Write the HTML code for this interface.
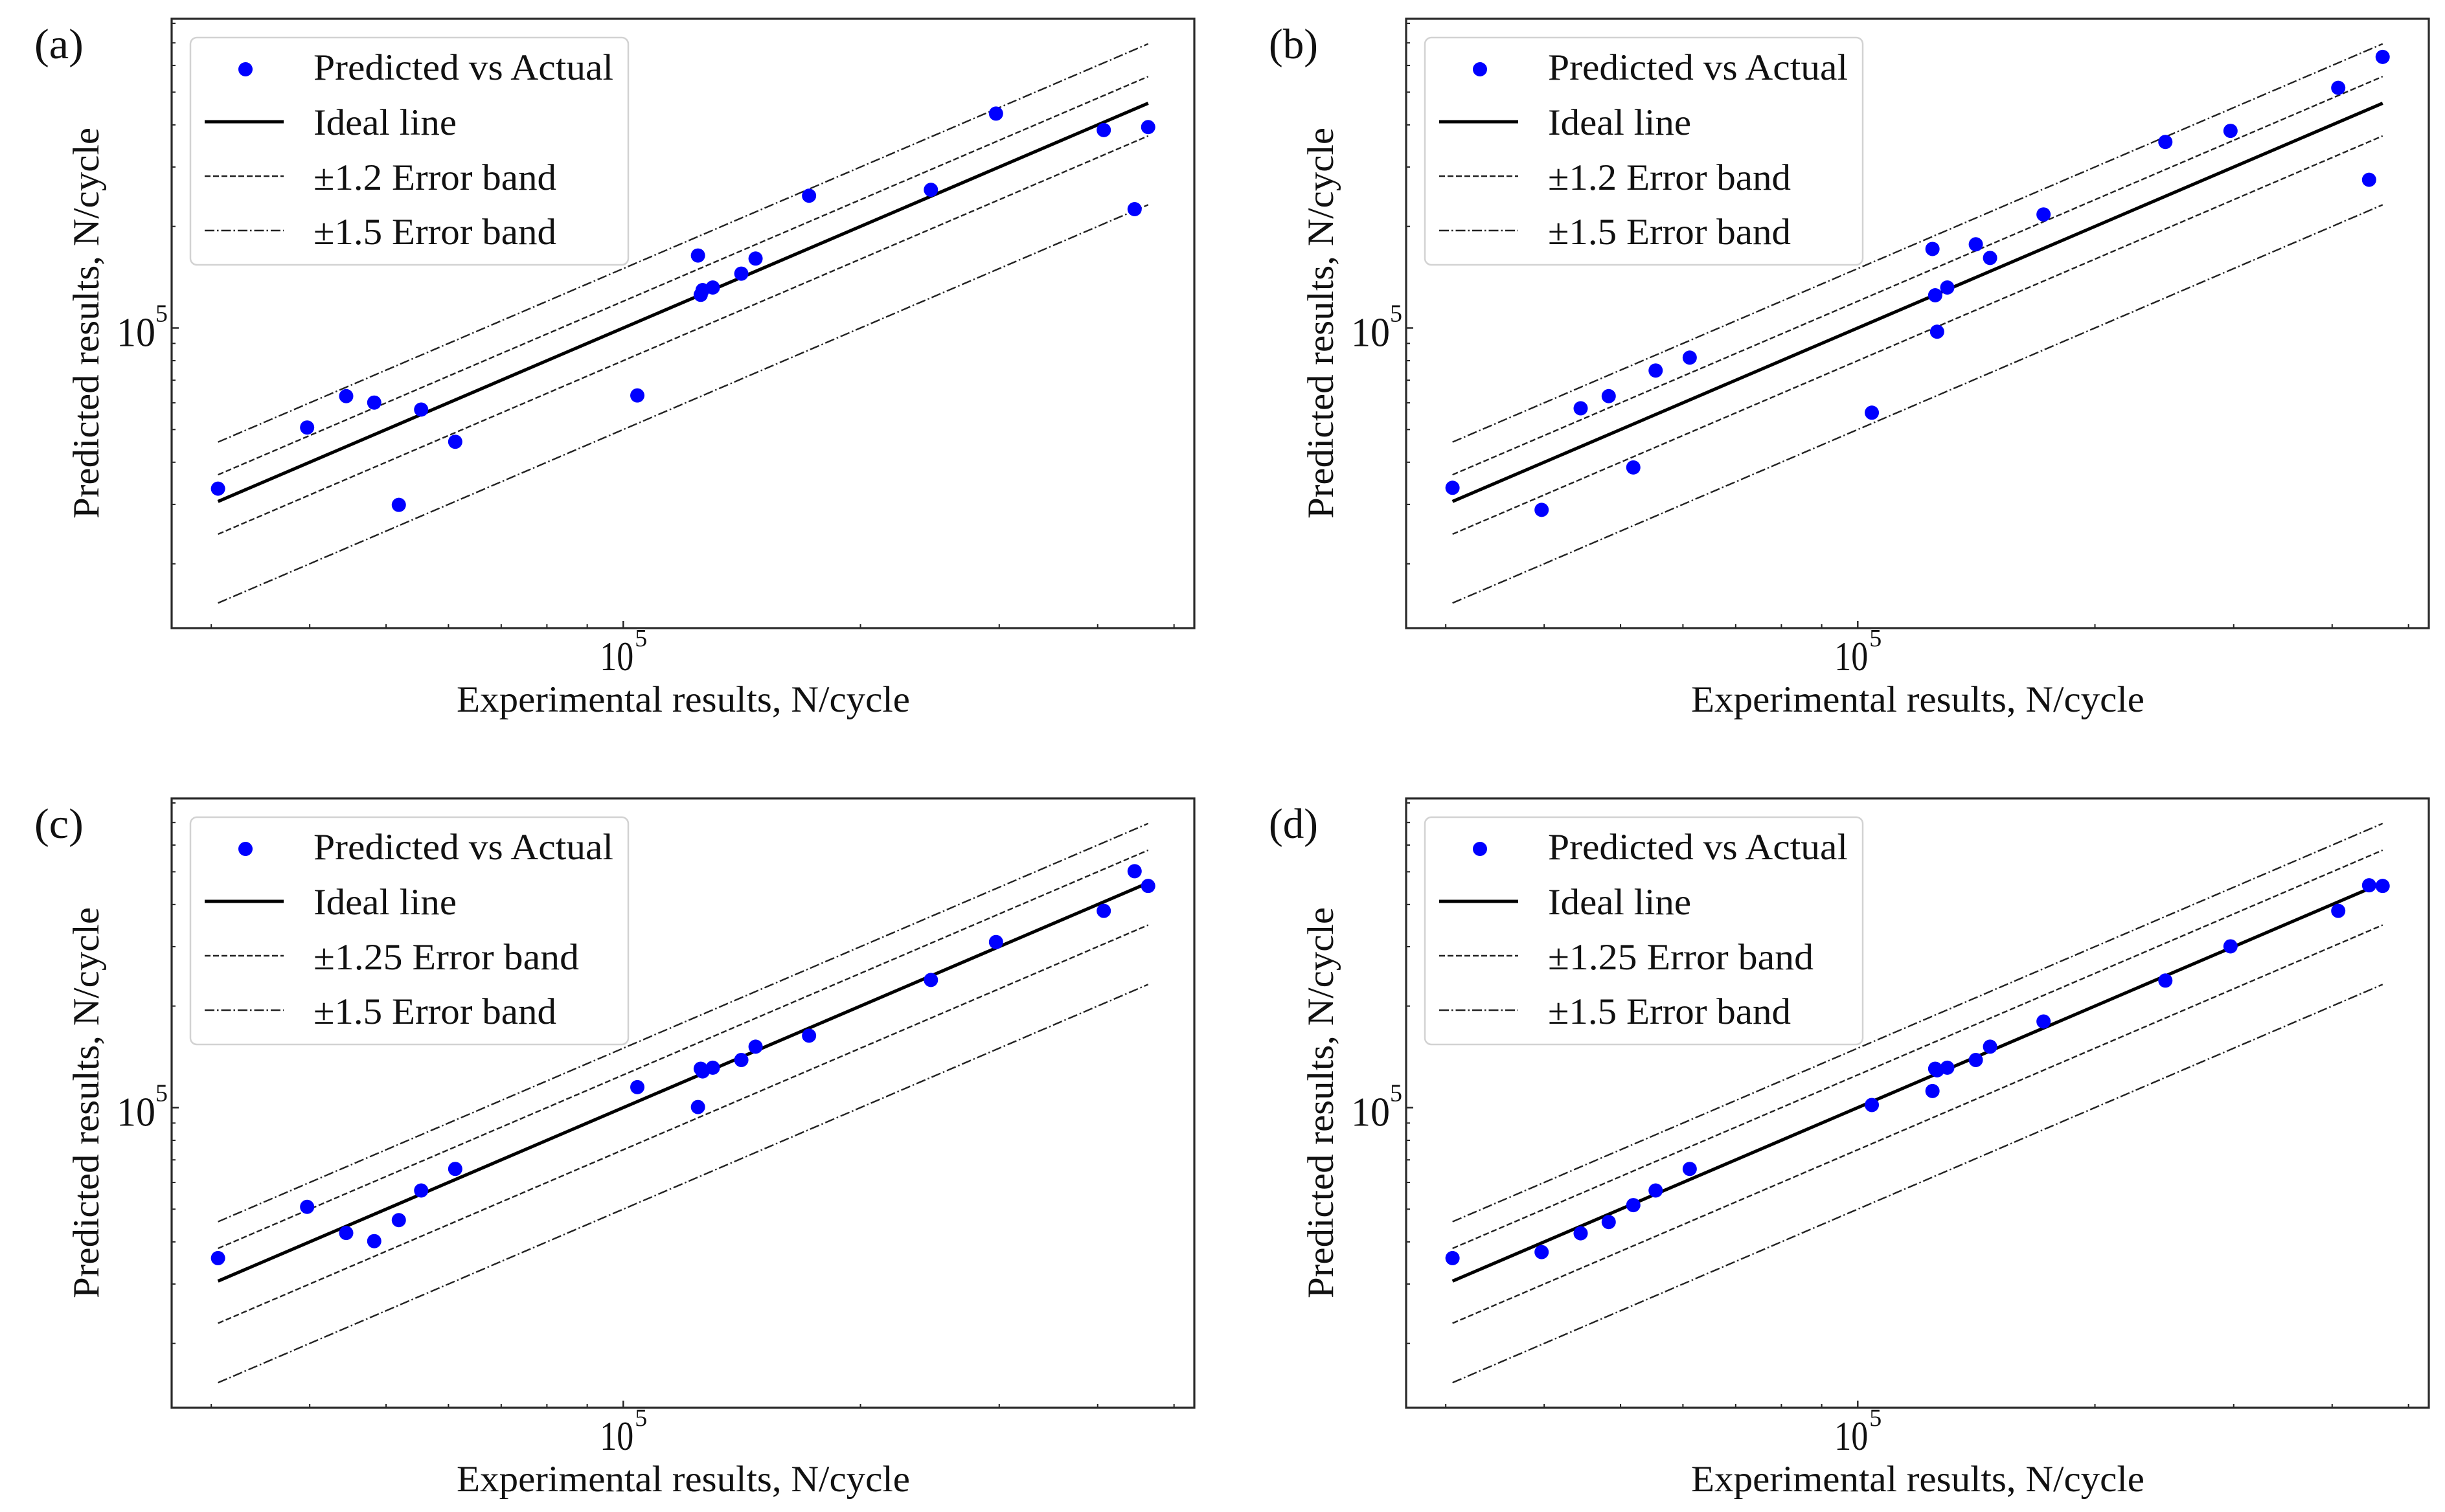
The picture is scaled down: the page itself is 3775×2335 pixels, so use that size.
<!DOCTYPE html>
<html><head><meta charset="utf-8">
<style>
html,body{margin:0;padding:0;background:#fff;}
svg{display:block;font-family:"Liberation Serif","Times New Roman",serif;}
</style></head>
<body>
<svg id="fig" width="3775" height="2335" viewBox="0 0 3775 2335" xmlns="http://www.w3.org/2000/svg"></svg>
<script>
// Shared experimental values (N/cycle)
const expX = [30.6e3,39.7e3,44.5e3,48.3e3,51.9e3,55.4e3,61.2e3,104.2e3,124.4e3,125.4e3,126.1e3,129.9e3,141.2e3,147.2e3,172.1e3,245.7e3,297.2e3,407.2e3,445.6e3,463.6e3];
// Predicted values per panel
const predA = [33.4e3,50.7e3,62.8e3,60.1e3,29.9e3,57.3e3,46.0e3,63.1e3,164e3,125.4e3,129.5e3,131.8e3,144.9e3,160.6e3,246.6e3,256.8e3,432e3,386e3,225e3,394e3];
const predB = [33.6e3,28.9e3,57.8e3,62.8e3,38.6e3,74.8e3,81.7e3,56.1e3,171.5e3,125e3,97.5e3,131.8e3,177e3,161.3e3,217e3,356e3,384e3,515e3,275e3,636e3];
const predC = [35.8e3,50.8e3,42.5e3,40.2e3,46.4e3,56.8e3,65.8e3,115e3,100.4e3,130.4e3,128e3,131.3e3,138.4e3,151.6e3,163.4e3,239e3,309.6e3,383e3,502e3,454e3];
const predD = [35.8e3,37.3e3,42.4e3,45.8e3,51.4e3,56.8e3,65.8e3,101.8e3,112e3,130.4e3,129e3,131.3e3,138.4e3,151.6e3,180e3,238e3,300.6e3,383e3,456e3,454e3];
// Panel labels and band factors
const panelLetters = ["(a)","(b)","(c)","(d)"];
const innerBand = [1.2,1.2,1.25,1.25];
const outerBand = [1.5,1.5,1.5,1.5];
const xMinorTicks = [3e4,4e4,5e4,6e4,7e4,8e4,9e4,2e5,3e5,4e5,5e5];
const yMinorTicks = [2e4,3e4,4e4,5e4,6e4,7e4,8e4,9e4,2e5,3e5,4e5,5e5,6e5,7e5,8e5];
const majorTick = 1e5;

const NS="http://www.w3.org/2000/svg";
const svg=document.getElementById('fig');
function mk(tag,attrs,parent){const e=document.createElementNS(NS,tag);for(const k in attrs)e.setAttribute(k,attrs[k]);(parent||svg).appendChild(e);return e;}

const preds=[predA,predB,predC,predD];
const offs=[[0,0],[1906,0],[0,1204],[1906,1204]];
const AX={l:265,r:1844,t:29,b:970};
const X0=962.3, XD=1216.6, Y0=506.5, YD=521;

preds.forEach((pred,pi)=>{
  const [ox,oy]=offs[pi];
  const sx=v=>ox+X0+(Math.log10(v)-5)*XD;
  const sy=v=>oy+Y0-(Math.log10(v)-5)*YD;
  const g=mk('g',{});
  
  
  const clipId='clip'+pi;
  const cp=mk('clipPath',{id:clipId},g);
  mk('rect',{x:ox+AX.l,y:oy+AX.t,width:AX.r-AX.l,height:AX.b-AX.t},cp);

  const lbl=mk('text',{x:ox+53,y:oy+90,'font-size':66,fill:'#111',textLength:76,lengthAdjust:'spacingAndGlyphs'},g);
  lbl.textContent=panelLetters[pi];
  
  

  const xmin=Math.min(...expX), xmax=Math.max(...expX);
  const plot=mk('g',{'clip-path':'url(#'+clipId+')'},g);
  const bands=[[outerBand[pi],'15,4,2.5,4','upper-outer-band'],[innerBand[pi],'9,4','upper-inner-band'],[1-(innerBand[pi]-1),'9,4','lower-inner-band'],[1-(outerBand[pi]-1),'15,4,2.5,4','lower-outer-band']];
  bands.forEach(b=>{
    const ln=mk('line',{x1:sx(xmin),y1:sy(xmin*b[0]),x2:sx(xmax),y2:sy(xmax*b[0]),stroke:'#222','stroke-width':2.4,'stroke-dasharray':b[1]},plot);
    
    
  });
  const ideal=mk('line',{x1:sx(xmin),y1:sy(xmin),x2:sx(xmax),y2:sy(xmax),stroke:'#000','stroke-width':5},plot);
  
  
  expX.forEach((x,i)=>{
    const c=mk('circle',{cx:sx(x),cy:sy(pred[i]),r:11,fill:'#0000ff'},plot);
    
    
  });

  xMinorTicks.forEach(t=>{mk('line',{x1:sx(t),x2:sx(t),y1:oy+AX.b,y2:oy+AX.b-6,stroke:'#222','stroke-width':2},g);});
  mk('line',{x1:sx(majorTick),x2:sx(majorTick),y1:oy+AX.b,y2:oy+AX.b-11,stroke:'#222','stroke-width':2.4},g);
  yMinorTicks.forEach(t=>{const y=sy(t);if(y>oy+AX.t&&y<oy+AX.b)mk('line',{x1:ox+AX.l,x2:ox+AX.l+6,y1:y,y2:y,stroke:'#222','stroke-width':2},g);});
  mk('line',{x1:ox+AX.l,x2:ox+AX.l+11,y1:sy(majorTick),y2:sy(majorTick),stroke:'#222','stroke-width':2.4},g);

  const frame=mk('rect',{x:ox+AX.l,y:oy+AX.t,width:AX.r-AX.l,height:AX.b-AX.t,fill:'none',stroke:'#2a2a2a','stroke-width':3.2},g);
  
  

  const xt=mk('text',{x:sx(majorTick)-36,y:oy+1035,'font-size':64,fill:'#111',textLength:52,lengthAdjust:'spacingAndGlyphs'},g);
  xt.textContent='10';
  
  
  const xs=mk('text',{x:sx(majorTick)+18,y:oy+998,'font-size':38,fill:'#111'},g);xs.textContent='5';
  const yt=mk('text',{x:ox+180,y:sy(majorTick)+28,'font-size':64,fill:'#111',textLength:60,lengthAdjust:'spacingAndGlyphs'},g);
  yt.textContent='10';
  
  
  const ys=mk('text',{x:ox+240,y:sy(majorTick)-10,'font-size':38,fill:'#111'},g);ys.textContent='5';

  const xl=mk('text',{x:ox+1055,y:oy+1099,'font-size':57,'text-anchor':'middle',fill:'#111',textLength:700,lengthAdjust:'spacingAndGlyphs'},g);
  xl.textContent='Experimental results, N/cycle';
  
  
  const yl=mk('text',{x:0,y:0,'font-size':57,'text-anchor':'middle',fill:'#111',textLength:604,lengthAdjust:'spacingAndGlyphs',transform:'translate('+(ox+152)+','+(oy+499)+') rotate(-90)'},g);
  yl.textContent='Predicted results, N/cycle';
  
  

  const lg=mk('g',{},g);
  
  
  mk('rect',{x:ox+294,y:oy+58,width:676,height:351,rx:10,fill:'#fff','fill-opacity':0.85,stroke:'#d2d2d2','stroke-width':2.5},lg);
  mk('circle',{cx:ox+379,cy:oy+107,r:11,fill:'#0000ff'},lg);
  mk('line',{x1:ox+316,x2:ox+438,y1:oy+188,y2:oy+188,stroke:'#000','stroke-width':5},lg);
  mk('line',{x1:ox+316,x2:ox+438,y1:oy+272,y2:oy+272,stroke:'#222','stroke-width':2.4,'stroke-dasharray':'9,4'},lg);
  mk('line',{x1:ox+316,x2:ox+438,y1:oy+356,y2:oy+356,stroke:'#222','stroke-width':2.4,'stroke-dasharray':'15,4,2.5,4'},lg);
  const labels=['Predicted vs Actual','Ideal line','\u00b1'+innerBand[pi]+' Error band','\u00b1'+outerBand[pi]+' Error band'];
  const widths=[463,221,pi<2?375:410,375];
  const bl=[123,208,293,377];
  labels.forEach((t,i)=>{
    const tx=mk('text',{x:ox+484,y:oy+bl[i],'font-size':57,fill:'#111',textLength:widths[i],lengthAdjust:'spacingAndGlyphs'},lg);
    tx.textContent=t;
    
    
  });
});
</script>
</body></html>
